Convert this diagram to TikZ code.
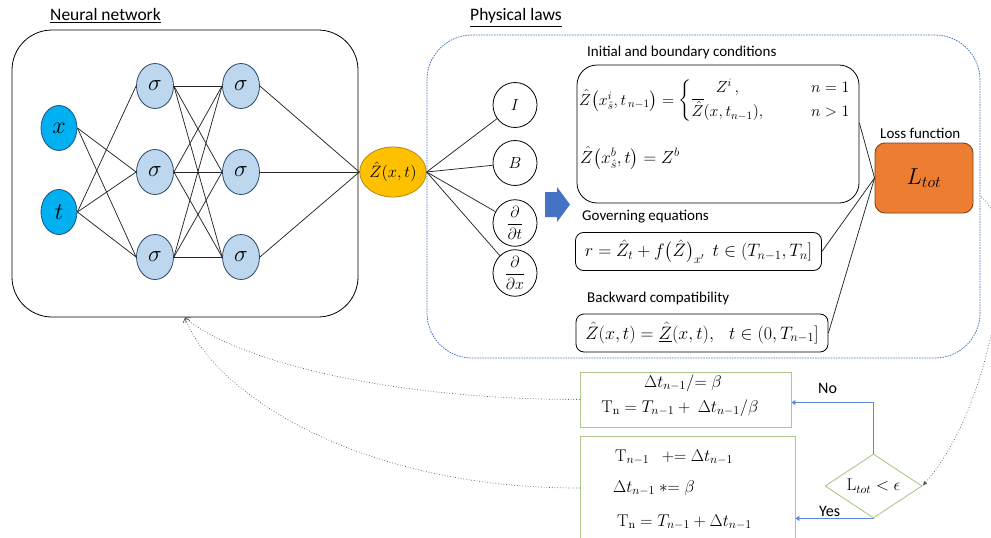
\RequirePackage{fix-cm}
\documentclass[tikz,border=0pt]{standalone}
\usepackage{amsmath}
\usepackage[no-math]{fontspec}
\setmainfont{Carlito}
\usetikzlibrary{shapes.geometric,arrows.meta}
\definecolor{inblue}{HTML}{00B0F0}
\definecolor{inborder}{HTML}{1F4E79}
\definecolor{hidfill}{HTML}{BDD7EE}
\definecolor{hidborder}{HTML}{2E4A6B}
\definecolor{zfill}{HTML}{FFC000}
\definecolor{zborder}{HTML}{B8860B}
\definecolor{lossfill}{HTML}{ED7D31}
\definecolor{lossborder}{HTML}{7F3F12}
\definecolor{dashblue}{HTML}{4472C4}
\definecolor{arrowblue}{HTML}{4472C4}
\definecolor{flowblue}{HTML}{5B8BD0}
\definecolor{boxgreen}{HTML}{A9C98A}
\definecolor{dotgray}{HTML}{555555}
\begin{document}
\begin{tikzpicture}[x=1pt,y=-1pt,
  lbl/.style={font=\fontsize{17.5}{20}\selectfont, inner sep=0, anchor=west},
  sublbl/.style={font=\fontsize{15}{18}\selectfont, inner sep=0, anchor=west},
  inpnode/.style={ellipse, draw=inborder, line width=0.8pt, fill=inblue, minimum width=36, minimum height=45, inner sep=0, font=\fontsize{24}{28}\selectfont},
  hidnode/.style={ellipse, draw=hidborder, line width=0.8pt, fill=hidfill, minimum width=37, minimum height=45, inner sep=0, font=\fontsize{23}{27}\selectfont},
  znode/.style={ellipse, draw=zborder, line width=0.8pt, fill=zfill, minimum width=66, minimum height=50, inner sep=0, font=\fontsize{16.5}{19}\selectfont},
  pcirc/.style={ellipse, draw, line width=0.8pt, minimum width=44, minimum height=45, inner sep=0, font=\fontsize{16}{18}\selectfont},
  nnedge/.style={line width=0.75pt, black!85},
  fbox/.style={draw, line width=0.8pt, rounded corners=8, inner sep=2, font=\fontsize{18}{21}\selectfont},
  mtext/.style={inner sep=0, font=\fontsize{17}{20}\selectfont},
  gbox/.style={draw=boxgreen, line width=0.9pt},
  flow/.style={draw=flowblue, line width=0.8pt, -{Triangle[width=5pt,length=4pt]}},
  dotline/.style={draw=dotgray, line width=0.7pt, dotted},
]
\useasboundingbox (0,0) rectangle (991,538);
\clip (0,0) rectangle (991,538);

% ---------- Neural network ----------
\node[lbl] (nnlbl) at (50,16) {\underline{Neural network}};
\node[draw, line width=0.8pt, rounded corners=40, minimum width=346, minimum height=287, inner sep=0] (nnbox) at (185,173.5) {};

\node[inpnode] (nx) at (59,128) {$x$};
\node[inpnode] (nt) at (59,212) {$t$};
\node[hidnode] (h11) at (155,86) {$\sigma$};
\node[hidnode] (h12) at (155,172) {$\sigma$};
\node[hidnode] (h13) at (155,257) {$\sigma$};
\node[hidnode] (h21) at (241,86) {$\sigma$};
\node[hidnode] (h22) at (241,172) {$\sigma$};
\node[hidnode] (h23) at (241,257) {$\sigma$};
\node[znode] (zout) at (393,172) {$\hat{Z}(x,t)$};

\foreach \h in {h12,h13} \draw[nnedge] (nx.east) -- (\h.west);
\foreach \h in {h11,h12,h13} \draw[nnedge] (nt.east) -- (\h.west);
\foreach \a in {h11,h12,h13} \foreach \b in {h21,h22,h23} \draw[nnedge] (\a.east) -- (\b.west);
\foreach \b in {h21,h22,h23} \draw[nnedge] (\b.east) -- (zout.west);

% ---------- Physical laws ----------
\node[lbl] (pllbl) at (470,18) {\underline{Physical laws}};
\node[draw=dashblue, line width=0.75pt, dash pattern=on 1.6pt off 1pt, rounded corners=45, minimum width=553, minimum height=323, inner sep=0] (plbox) at (703.5,196.5) {};

\node[pcirc] (cI) at (515,105) {$I$};
\node[pcirc] (cB) at (515,163) {$B$};
\node[pcirc] (cT) at (515,223) {$\dfrac{\partial}{\partial t}$};
\node[pcirc] (cX) at (515,273) {$\dfrac{\partial}{\partial x}$};
\foreach \c in {cI,cB,cT,cX} \draw[nnedge] (zout.east) -- (\c);

\fill[arrowblue] (545,192) -- (557,192) -- (557,187) -- (570,204.5) -- (557,222) -- (557,217) -- (545,217) -- cycle;

\node[sublbl] (ibclbl) at (587,52) {Initial and boundary conditions};
\node[draw, line width=0.8pt, rounded corners=20, minimum width=282, minimum height=138, inner sep=0] (ibc) at (718,134) {};
\node[inner sep=0, font=\fontsize{16}{19}\selectfont, anchor=west] (ibc1) at (579,101) {$\hat{Z}\big(x^{i}_{\hat{s}},t_{\,n-1}\big) = \left\{\begin{array}{@{}c@{\hspace{48pt}}l@{}} Z^{i}\,, & n=1\\ \overline{\hat{Z}}(x,t_{n-1}), & n>1\end{array}\right.$};
\node[inner sep=0, font=\fontsize{17.5}{20}\selectfont, anchor=west] (ibc2) at (580,158) {$\hat{Z}\big(x^{b}_{\hat{s}},t\big) = Z^{b}$};

\node[sublbl] (gelbl) at (582,217) {Governing equations};
\node[fbox, minimum width=246, minimum height=38] (ge) at (698.5,251.5) {$r = \hat{Z}_t + f\big(\hat{Z}\big)_{x'}\ \ t\in(T_{n-1},T_n]$};

\node[sublbl] (bclbl) at (587,298) {Backward compatibility};
\node[fbox, minimum width=252, minimum height=38] (bc) at (702,333) {$\hat{Z}(x,t) = \underline{\hat{Z}}(x,t),\ \ \ t\in(0,T_{n-1}]$};

\node[sublbl] (losslbl) at (880,133) {Loss function};
\node[draw=lossborder, line width=0.9pt, fill=lossfill, rounded corners=10, minimum width=98, minimum height=70, inner sep=0, font=\fontsize{23}{27}\selectfont] (ltot) at (924,178) {$L_{tot}$};

\draw[nnedge] ([yshift=11pt]ibc.east) -- (ltot.west);
\draw[nnedge] (ge.east) -- (ltot.west);
\draw[nnedge] (bc.east) -- (ltot.west);

% ---------- Update loop ----------
\node[gbox, minimum width=211, minimum height=55, inner sep=0] (nobox) at (685.5,399.5) {};
\node[mtext] (no1) at (683,383) {$\Delta t_{n-1}/{=}\;\beta$};
\node[mtext] (no2) at (680,408) {$\mathrm{T_n} = T_{n-1} +\ \Delta t_{n-1}/\beta$};

\node[gbox, minimum width=215, minimum height=109, inner sep=0] (yesbox) at (687.5,490.5) {};
\node[mtext, anchor=west] (yes1) at (615,457) {$\mathrm{T}_{n-1}\ \ \mathrel{+}= \Delta t_{n-1}$};
\node[mtext, anchor=west] (yes2) at (613,488) {$\Delta t_{n-1}\ {*}{=}\;\beta$};
\node[mtext, anchor=west] (yes3) at (617,522) {$\mathrm{T_n} = T_{n-1} + \Delta t_{n-1}$};

\node[diamond, aspect=1.5, draw=boxgreen, line width=0.9pt, minimum width=97, minimum height=64, inner sep=0, font=\fontsize{17}{20}\selectfont] (dec) at (873.5,486) {$\mathrm{L}_{tot} < \epsilon$};

\node[sublbl, font=\fontsize{16}{19}\selectfont] (nolbl) at (818,388) {No};
\node[sublbl, font=\fontsize{16}{19}\selectfont] (yeslbl) at (819,511) {Yes};

\draw[flow] (dec.north) |- ([yshift=-3pt]nobox.east);
\draw[flow] (dec.south) -- (dec.south -| yesbox.east);

% dotted feedback curves
\draw[dotline, -{Latex[length=5pt,width=4pt]}] ([xshift=8pt,yshift=-19pt]ltot.east) .. controls +(40,30) and +(70,-80) .. (dec.east);
\draw[dotline, -{Straight Barb[length=4pt,width=7pt]}] (nobox.west) .. controls +(-200,0) and +(45,40) .. (nnbox.south);
\draw[dotline, -{Straight Barb[length=4pt,width=7pt]}] ([yshift=2.5pt]yesbox.west) .. controls +(-230,0) and +(25,70) .. (nnbox.south);
\end{tikzpicture}
\end{document}
